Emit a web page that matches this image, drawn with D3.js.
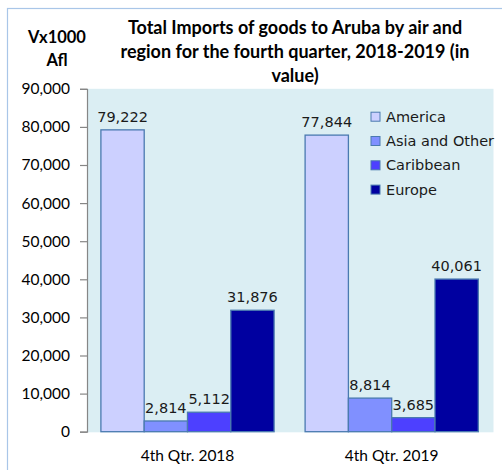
<!DOCTYPE html>
<html>
<head>
<meta charset="utf-8">
<script src="https://cdn.jsdelivr.net/npm/d3@7"></script>
<style>
  body { margin: 0; background: #fff; }
  svg { display: block; }
</style>
</head>
<body>
<svg id="chart" width="502" height="470"></svg>
<script>
const quarters = ["4th Qtr. 2018", "4th Qtr. 2019"];
const regions = ["America", "Asia and Other", "Caribbean", "Europe"];
const america = [79222, 77844];
const asiaOther = [2814, 8814];
const caribbean = [5112, 3685];
const europe = [31876, 40061];
const yTicks = [0, 10000, 20000, 30000, 40000, 50000, 60000, 70000, 80000, 90000];
const titleLines = ["Total Imports of goods to Aruba by air and", "region for the fourth quarter,  2018-2019 (in", "value)"];

const series = [america, asiaOther, caribbean, europe];
const colors = ["#ccd0ff", "#8090ff", "#4d40ff", "#0000a0"];

const svg = d3.select("#chart");
const plot = {left: 87, right: 493.5, top: 88.8, bottom: 431.7};

// outer chart border
svg.append("rect")
  .attr("x", 7.5).attr("y", 8.5)
  .attr("width", 520).attr("height", 500)
  .attr("fill", "none")
  .attr("stroke", "#a9c6e8")
  .attr("stroke-width", 1.2);

// title
svg.append("g")
  .selectAll("text")
  .data(titleLines)
  .join("text")
  .attr("x", 295)
  .attr("y", (d, i) => 34 + i * 24)
  .attr("text-anchor", "middle")
  .attr("font-family", "Lato, 'Open Sans', sans-serif")
  .attr("font-weight", "bold")
  .attr("font-size", 18)
  .attr("fill", "#000")
  .text(d => d);

// y unit label
svg.append("g")
  .selectAll("text")
  .data(["Vx1000", "Afl"])
  .join("text")
  .attr("x", 57)
  .attr("y", (d, i) => 43 + i * 23)
  .attr("text-anchor", "middle")
  .attr("font-family", "Lato, 'Open Sans', sans-serif")
  .attr("font-weight", "bold")
  .attr("font-size", 16.5)
  .text(d => d);

// plot background
svg.append("rect")
  .attr("x", plot.left).attr("y", plot.top)
  .attr("width", plot.right - plot.left)
  .attr("height", plot.bottom - plot.top + 0.6)
  .attr("fill", "#dbeef3");

const x0 = d3.scaleBand()
  .domain(quarters)
  .range([85.4, 493.8]);

const x1 = d3.scaleBand()
  .domain(regions)
  .range([15.5, x0.bandwidth() - 15.5]);

const y = d3.scaleLinear()
  .domain([0, 90000])
  .range([plot.bottom, plot.top]);

// bars
const groups = svg.append("g")
  .selectAll("g")
  .data(quarters)
  .join("g")
  .attr("transform", d => `translate(${x0(d)},0)`);

groups.selectAll("rect")
  .data((q, qi) => regions.map((r, ri) => ({region: r, value: series[ri][qi], color: colors[ri]})))
  .join("rect")
  .attr("x", d => x1(d.region))
  .attr("y", d => y(d.value))
  .attr("width", x1.bandwidth())
  .attr("height", d => y(0) - y(d.value))
  .attr("fill", d => d.color)
  .attr("stroke", "#4a7ab0")
  .attr("stroke-width", 1.3);

// data labels
groups.selectAll("text")
  .data((q, qi) => regions.map((r, ri) => ({region: r, value: series[ri][qi]})))
  .join("text")
  .attr("x", d => x1(d.region) + x1.bandwidth() / 2)
  .attr("y", d => y(d.value) - 8)
  .attr("text-anchor", "middle")
  .attr("font-family", "'DejaVu Sans', Verdana, sans-serif")
  .attr("font-size", 14.5)
  .attr("fill", "#1a1a1a")
  .text(d => d3.format(",")(d.value));

// y axis
const yAxis = svg.append("g")
  .attr("transform", `translate(${plot.left},0)`)
  .call(d3.axisLeft(y).tickValues(yTicks).tickFormat(d3.format(",")).tickSize(7).tickPadding(10));

yAxis.select(".domain").attr("stroke", "#868686").attr("stroke-width", 1.2);
yAxis.selectAll(".tick line").attr("stroke", "#868686").attr("stroke-width", 1.2);
yAxis.selectAll(".tick text")
  .attr("font-family", "Lato, 'Open Sans', sans-serif")
  .attr("font-size", 15.5)
  .attr("fill", "#000");

// category labels
svg.append("g")
  .selectAll("text")
  .data(quarters)
  .join("text")
  .attr("x", d => x0(d) + x0.bandwidth() / 2)
  .attr("y", 461)
  .attr("text-anchor", "middle")
  .attr("font-family", "Lato, 'Open Sans', sans-serif")
  .attr("font-size", 15.5)
  .attr("fill", "#000")
  .text(d => d);

// legend
const legend = svg.append("g")
  .selectAll("g")
  .data(regions)
  .join("g")
  .attr("transform", (d, i) => `translate(371,${116.7 + i * 24.3})`);

legend.append("rect")
  .attr("x", 0).attr("y", -4.5)
  .attr("width", 9).attr("height", 9)
  .attr("fill", (d, i) => colors[i])
  .attr("stroke", "#4a7ab0")
  .attr("stroke-width", 1);

legend.append("text")
  .attr("x", 15)
  .attr("y", 5)
  .attr("font-family", "'DejaVu Sans', Verdana, sans-serif")
  .attr("font-size", 14.5)
  .attr("fill", "#1a1a1a")
  .text(d => d);
</script>
</body>
</html>
